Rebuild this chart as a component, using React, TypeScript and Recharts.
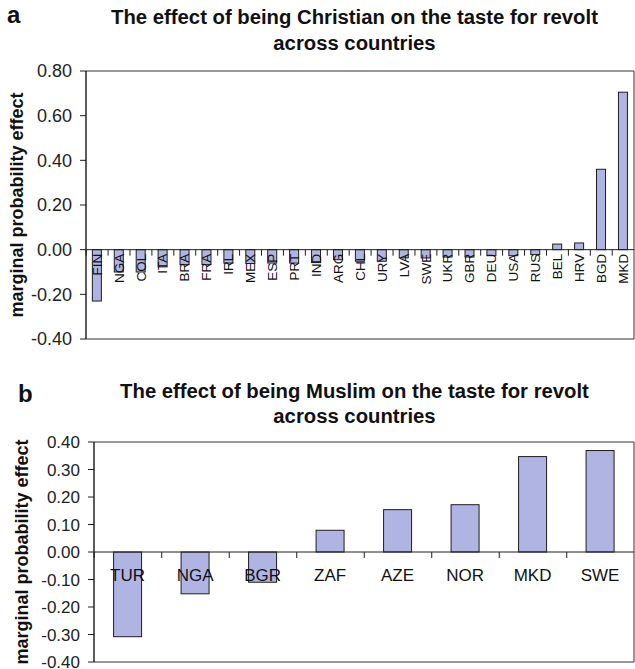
import React from 'react';
import { BarChart, Bar, XAxis, YAxis, ReferenceLine, ReferenceArea } from 'recharts';

const christianCountries = ['FIN', 'NGA', 'COL', 'ITA', 'BRA', 'FRA', 'IRL', 'MEX', 'ESP', 'PRT', 'IND', 'ARG', 'CHL', 'URY', 'LVA', 'SWE', 'UKR', 'GBR', 'DEU', 'USA', 'RUS', 'BEL', 'HRV', 'BGD', 'MKD'];
const christianEffects = [-0.23, -0.1, -0.1, -0.077, -0.067, -0.067, -0.06, -0.062, -0.06, -0.06, -0.058, -0.045, -0.052, -0.052, -0.037, -0.037, -0.033, -0.033, -0.027, -0.027, -0.022, 0.025, 0.03, 0.36, 0.705];
const christianTicks = [-0.4, -0.2, 0, 0.2, 0.4, 0.6, 0.8];

const muslimCountries = ['TUR', 'NGA', 'BGR', 'ZAF', 'AZE', 'NOR', 'MKD', 'SWE'];
const muslimEffects = [-0.308, -0.152, -0.11, 0.079, 0.154, 0.172, 0.347, 0.369];
const muslimTicks = [-0.4, -0.3, -0.2, -0.1, 0, 0.1, 0.2, 0.3, 0.4];

const titleA = ['The effect of being Christian on the taste for revolt', 'across countries'];
const titleB = ['The effect of being Muslim on the taste for revolt', 'across countries'];
const yAxisTitle = 'marginal probability effect';

const christianData = christianCountries.map((name, i) => ({ name, value: christianEffects[i] }));
const muslimData = muslimCountries.map((name, i) => ({ name, value: muslimEffects[i] }));

const FONT = '"Liberation Sans", Arial, Helvetica, sans-serif';
const BAR_FILL = '#B0B4E3';
const INK = '#1e1e1e';
const GAP = 0.29;

function makeShape(rotated: boolean, fontSize: number) {
  return (props: any) => {
    const { x, y, width, height, payload } = props;
    const top = Math.min(y, y + height);
    const h = Math.abs(height);
    const zero = payload.value >= 0 ? top + h : top;
    const cx = x + width / 2;
    const band = width / (1 - 2 * GAP);
    const left = cx - band / 2;
    return (
      <g>
        <rect x={x} y={top} width={width} height={h} fill={BAR_FILL} stroke={INK} strokeWidth={1} />
        <line x1={left} x2={left} y1={zero} y2={zero + 6} stroke={INK} strokeWidth={1} />
        {rotated ? (
          <text
            x={cx + fontSize * 0.36}
            y={zero + 4}
            transform={`rotate(-90 ${cx + fontSize * 0.36} ${zero + 4})`}
            textAnchor="end"
            fontSize={fontSize}
            fontFamily={FONT}
            fill="#111"
          >
            {payload.name}
          </text>
        ) : (
          <text x={cx} y={zero + 29} textAnchor="middle" fontSize={fontSize} fontFamily={FONT} fill="#111">
            {payload.name}
          </text>
        )}
      </g>
    );
  };
}

export default function App() {
  return (
    <div style={{ position: 'absolute', left: 0, top: 0, width: 635, height: 669, overflow: 'hidden', background: '#fff' }}>
      <div style={{ position: 'absolute', left: 0, top: 0 }}>
        <BarChart width={635} height={360} data={christianData} margin={{ top: 71, right: 1, bottom: 21, left: 0 }} barCategoryGap={`${GAP * 100}%`}>
          <XAxis dataKey="name" hide />
          <YAxis
            type="number"
            domain={[-0.4, 0.8]}
            ticks={christianTicks}
            interval={0}
            width={86}
            tickFormatter={(v: number) => v.toFixed(2)}
            tick={{ fontSize: 18, fill: '#222', fontFamily: FONT }}
            tickSize={6}
            tickMargin={8}
            axisLine={{ stroke: INK }}
            tickLine={{ stroke: INK }}
          />
          <ReferenceArea y1={-0.4} y2={0.8} fill="#fff" fillOpacity={0} stroke="#333" strokeWidth={1} />
          <ReferenceLine y={0} stroke={INK} strokeWidth={1} />
          <Bar dataKey="value" isAnimationActive={false} shape={makeShape(true, 13.5)} />
        </BarChart>
      </div>
      <div style={{ position: 'absolute', left: 0, top: 370 }}>
        <BarChart width={635} height={312} data={muslimData} margin={{ top: 72, right: 1, bottom: 20, left: 0 }} barCategoryGap={`${GAP * 100}%`}>
          <XAxis dataKey="name" hide />
          <YAxis
            type="number"
            domain={[-0.4, 0.4]}
            ticks={muslimTicks}
            interval={0}
            width={94}
            tickFormatter={(v: number) => v.toFixed(2)}
            tick={{ fontSize: 17, fill: '#222', fontFamily: FONT }}
            tickSize={6}
            tickMargin={8}
            axisLine={{ stroke: INK }}
            tickLine={{ stroke: INK }}
          />
          <ReferenceArea y1={-0.4} y2={0.4} fill="#fff" fillOpacity={0} stroke="#333" strokeWidth={1} />
          <ReferenceLine y={0} stroke={INK} strokeWidth={1} />
          <Bar dataKey="value" isAnimationActive={false} shape={makeShape(false, 17)} />
        </BarChart>
      </div>
      <svg width={635} height={669} style={{ position: 'absolute', left: 0, top: 0, pointerEvents: 'none' }} fontFamily={FONT}>
        <text x={7} y={23} fontSize={24} fontWeight="bold" fill="#111">a</text>
        <text x={354.5} y={24} fontSize={20.3} fontWeight="bold" textAnchor="middle" fill="#111">{titleA[0]}</text>
        <text x={354.5} y={50} fontSize={20.3} fontWeight="bold" textAnchor="middle" fill="#111">{titleA[1]}</text>
        <text x={17} y={205} fontSize={18} fontWeight="bold" textAnchor="middle" dominantBaseline="central" transform="rotate(-90 17 205)" fill="#111">{yAxisTitle}</text>
        <text x={18} y={402} fontSize={24} fontWeight="bold" fill="#111">b</text>
        <text x={354.5} y={398} fontSize={20.3} fontWeight="bold" textAnchor="middle" fill="#111">{titleB[0]}</text>
        <text x={354.5} y={423} fontSize={20.3} fontWeight="bold" textAnchor="middle" fill="#111">{titleB[1]}</text>
        <text x={22} y={552} fontSize={18} fontWeight="bold" textAnchor="middle" dominantBaseline="central" transform="rotate(-90 22 552)" fill="#111">{yAxisTitle}</text>
      </svg>
    </div>
  );
}
